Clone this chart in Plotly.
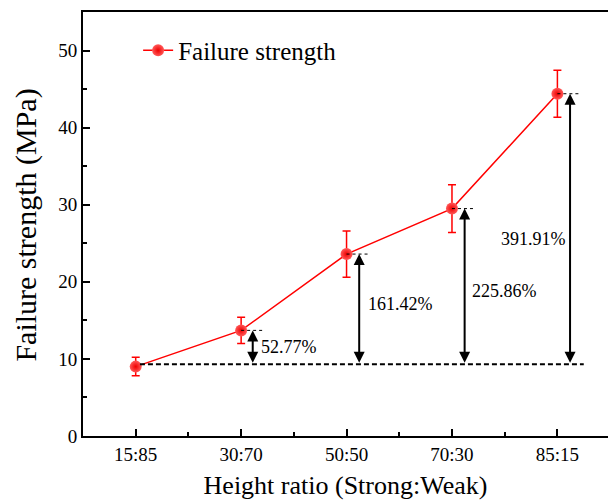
import plotly.graph_objects as go

categories = ["15:85", "30:70", "50:50", "70:30", "85:15"]
strength = [9.0, 13.7, 23.6, 29.5, 44.4]
err = [1.2, 1.7, 3.0, 3.1, 3.05]
pct_labels = ["52.77%", "161.42%", "225.86%", "391.91%"]
baseline = 9.3
y_ticks = [0, 10, 20, 30, 40, 50]

FONT = "Liberation Serif"
xpos = list(range(len(categories)))

fig = go.Figure()
fig.add_trace(go.Scatter(
    x=xpos, y=strength, mode="lines+markers", name="Failure strength",
    line=dict(color="#ff0000", width=1.5),
    marker=dict(size=12, color="#ff5a5a", line=dict(width=0),
                gradient=dict(type="radial", color="#f00000")),
    error_y=dict(type="data", array=err, visible=True, color="#ff0000",
                 thickness=1.5, width=4),
))

shapes = []
# baseline dashed
shapes.append(dict(type="line", xref="x", yref="y", x0=0.04, x1=4.25,
                   y0=baseline, y1=baseline,
                   line=dict(color="black", width=2, dash="5px,3px")))
annotations = []
offsets = [0.11, 0.12, 0.12, 0.12]
label_pos = [(1.17, 11.6), (2.185, 17.1), (3.17, 18.8), (3.45, 25.5)]
for i in range(1, 5):
    # short dotted level line
    shapes.append(dict(type="line", xref="x", yref="y", x0=i, x1=i + 0.22,
                       y0=strength[i], y1=strength[i],
                       line=dict(color="black", width=1, dash="dot")))
    ax = i + offsets[i - 1]
    annotations.append(dict(x=ax, y=strength[i], ax=ax, ay=baseline,
                            xref="x", yref="y", axref="x", ayref="y",
                            showarrow=True, arrowhead=2, arrowside="end+start",
                            arrowsize=1.1, arrowwidth=2, arrowcolor="black", text=""))
    lx, ly = label_pos[i - 1]
    annotations.append(dict(x=lx, y=ly, xref="x", yref="y", text=pct_labels[i - 1],
                            showarrow=False, xanchor="left", yanchor="middle",
                            font=dict(family=FONT, size=18, color="black")))

# y axis title placed as rotated annotation
annotations.append(dict(text="Failure strength (MPa)", xref="paper", yref="paper",
                        x=-0.109, y=0.498, xanchor="center", yanchor="middle",
                        textangle=-90, showarrow=False,
                        font=dict(family=FONT, size=30, color="black")))

fig.update_layout(
    width=608, height=503,
    margin=dict(l=83, r=0, t=12, b=67),
    plot_bgcolor="white", paper_bgcolor="white",
    font=dict(family=FONT, color="black"),
    shapes=shapes, annotations=annotations,
    showlegend=True,
    legend=dict(x=0.105, y=0.909, xanchor="left", yanchor="middle",
                bgcolor="rgba(0,0,0,0)", font=dict(family=FONT, size=25)),
)
fig.update_xaxes(
    range=[-0.5, 4.48], tickmode="array", tickvals=xpos, ticktext=categories,
    showline=True, linecolor="black", linewidth=2, mirror=True,
    ticks="inside", ticklen=7, tickwidth=1.5, tickcolor="black",
    minor=dict(tickmode="array", tickvals=[0.5, 1.5, 2.5, 3.5], ticks="inside",
               ticklen=4, tickwidth=1.5, tickcolor="black"),
    showgrid=False, zeroline=False,
    tickfont=dict(family=FONT, size=19),
    title=dict(text="Height ratio (Strong:Weak)", font=dict(family=FONT, size=26),
               standoff=12),
)
fig.update_yaxes(
    range=[0, 55], tickmode="array", tickvals=y_ticks,
    showline=True, linecolor="black", linewidth=2, mirror=False,
    ticks="inside", ticklen=7, tickwidth=1.5, tickcolor="black",
    minor=dict(tickmode="array", tickvals=[5, 15, 25, 35, 45], ticks="inside",
               ticklen=4, tickwidth=1.5, tickcolor="black"),
    showgrid=False, zeroline=False,
    tickfont=dict(family=FONT, size=19),
)
fig.write_html("out.html")
